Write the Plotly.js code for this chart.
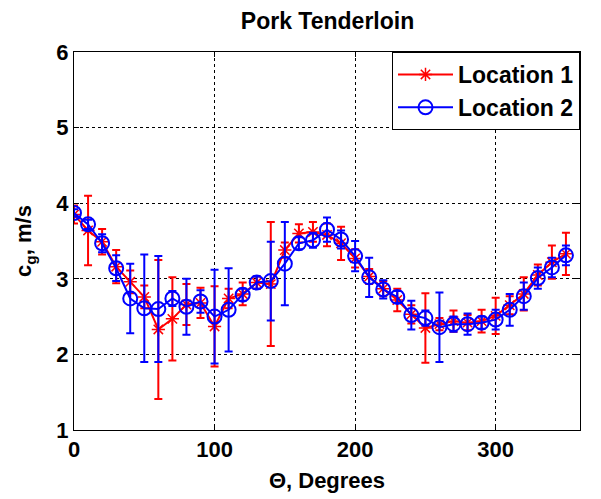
<!DOCTYPE html>
<html>
<head>
<meta charset="utf-8">
<script src="https://cdn.plot.ly/plotly-3.0.1.min.js"></script>
<style>
  html, body { margin: 0; padding: 0; background: #fff; }
  #chart { width: 601px; height: 499px; }
</style>
</head>
<body>
<div id="chart"></div>
<script>
// angles, degrees
var theta = [0,10,20,30,40,50,60,70,80,90,100,110,120,130,140,150,160,170,
             180,190,200,210,220,230,240,250,260,270,280,290,300,310,320,330,340,350]

// Location 1 (red)
var loc1 = [3.85,3.64,3.49,3.16,2.96,2.76,2.33,2.47,2.66,2.68,2.37,2.74,2.80,2.95,2.93,3.38,3.60,3.62,
            3.58,3.47,3.27,3.03,2.87,2.72,2.53,2.35,2.40,2.44,2.42,2.44,2.51,2.65,2.80,3.05,3.22,3.33]
var err1 = [0.12,0.46,0.17,0.22,0.15,0.15,0.92,0.55,0.27,0.20,0.53,0.13,0.15,0.08,0.82,0.10,0.12,0.13,
            0.15,0.22,0.12,0.10,0.10,0.15,0.12,0.46,0.08,0.14,0.10,0.15,0.24,0.12,0.22,0.14,0.22,0.28]

// Location 2 (blue)
var loc2 = [3.87,3.72,3.47,3.14,2.74,2.61,2.60,2.74,2.63,2.70,2.50,2.59,2.79,2.95,2.97,3.20,3.47,3.51,
            3.65,3.52,3.30,3.02,2.86,2.76,2.52,2.48,2.36,2.40,2.40,2.42,2.46,2.59,2.77,3.01,3.15,3.31]
var err2 = [0.05,0.06,0.12,0.17,0.46,0.71,0.70,0.10,0.37,0.15,0.62,0.55,0.08,0.08,0.52,0.55,0.08,0.10,
            0.16,0.12,0.20,0.26,0.12,0.08,0.19,0.10,0.46,0.10,0.14,0.08,0.13,0.21,0.18,0.14,0.13,0.13]

var xticks = [0, 100, 200, 300]
var yticks = [1, 2, 3, 4, 5, 6]

var fnt = 'Arial, "Liberation Sans", sans-serif'

var data = [{
  x: theta, y: loc1,
  name: '<b>Location 1</b>',
  mode: 'lines+markers',
  type: 'scatter',
  line: {color: '#ff0000', width: 2},
  marker: {symbol: 'asterisk-open', size: 11, color: '#ff0000', line: {color: '#ff0000', width: 1.5}},
  error_y: {type: 'data', array: err1, visible: true, color: '#ff0000', thickness: 2, width: 4}
}, {
  x: theta, y: loc2,
  name: '<b>Location 2</b>',
  mode: 'lines+markers',
  type: 'scatter',
  line: {color: '#0000ff', width: 2},
  marker: {symbol: 'circle-open', size: 14, color: '#0000ff', line: {color: '#0000ff', width: 2}},
  error_y: {type: 'data', array: err2, visible: true, color: '#0000ff', thickness: 2, width: 4}
}]

var layout = {
  width: 601, height: 499,
  margin: {l: 74, r: 21, t: 52, b: 69},
  paper_bgcolor: '#ffffff',
  plot_bgcolor: '#ffffff',
  font: {family: fnt, color: '#000', size: 22},
  title: {text: '<b>Pork Tenderloin</b>', x: 0.545, xanchor: 'center', y: 0.958, yanchor: 'middle',
          font: {size: 23, family: fnt}},
  showlegend: true,
  legend: {
    x: 1, xanchor: 'right', y: 1, yanchor: 'top',
    bgcolor: '#ffffff', bordercolor: '#000', borderwidth: 1,
    font: {size: 23, family: fnt},
    itemwidth: 55,
    tracegroupgap: 0
  },
  xaxis: {
    range: [0, 360],
    tickvals: xticks,
    ticktext: xticks.map(function (v) { return '<b>' + v + '</b>' }),
    showgrid: true, gridcolor: '#000', griddash: 'dot', gridwidth: 1,
    zeroline: false,
    showline: true, linecolor: '#000', linewidth: 1, mirror: 'ticks',
    ticks: 'inside', ticklen: 5, tickcolor: '#000',
    title: {text: '<b>Θ, Degrees</b>', font: {size: 22}, standoff: 11}
  },
  yaxis: {
    range: [1, 6],
    tickvals: yticks,
    ticktext: yticks.map(function (v) { return '<b>' + v + '</b>' }),
    showgrid: true, gridcolor: '#000', griddash: 'dot', gridwidth: 1,
    zeroline: false,
    showline: true, linecolor: '#000', linewidth: 1, mirror: 'ticks',
    ticks: 'inside', ticklen: 5, tickcolor: '#000',
    title: {text: '<b>c<sub>g</sub>, m/s</b>', font: {size: 22}, standoff: 18}
  }
}

Plotly.newPlot('chart', data, layout, {displayModeBar: false, staticPlot: true})
</script>
</body>
</html>
